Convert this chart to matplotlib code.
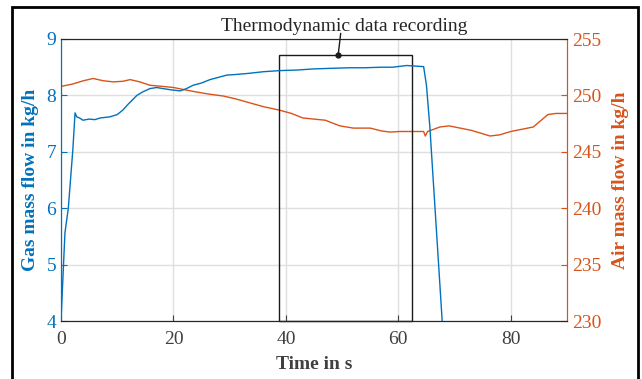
import matplotlib.pyplot as plt
from matplotlib.patches import Rectangle

# gas mass flow (left axis)
t_gas = [0, 0.7, 1.3, 2.1, 2.5, 2.8, 3.3, 3.9, 5, 6, 7, 8.7, 10, 11, 12, 13.5, 14.5,
         15.8, 17, 18.2, 19.5, 21.2, 22.3, 23.5, 25, 26.5, 28, 29.5, 31, 33.3, 36, 39,
         42, 45, 48, 51.4, 54, 57, 59, 61.5, 63, 64.5, 65.0, 65.6, 67.8]
gas = [4.0, 5.56, 6.0, 7.03, 7.69, 7.62, 7.6, 7.56, 7.58, 7.57, 7.6, 7.62, 7.66, 7.74,
       7.85, 8.0, 8.06, 8.12, 8.14, 8.12, 8.1, 8.08, 8.12, 8.18, 8.22, 8.28, 8.32, 8.36,
       8.37, 8.39, 8.42, 8.44, 8.45, 8.47, 8.48, 8.49, 8.49, 8.5, 8.5, 8.53, 8.52, 8.51,
       8.18, 7.45, 4.0]

# air mass flow (right axis)
t_air = [0, 2, 4, 5.7, 7.5, 9.3, 11, 12.3, 14, 15.8, 18, 20, 22, 24.1, 26.5, 28.8, 31,
         33.5, 36, 38.8, 41, 43, 45, 47, 49.6, 52, 55, 57, 58.5, 60.3, 62, 64.5, 64.8,
         65.2, 67.4, 69, 71, 73, 75, 76.3, 78, 80, 82, 84, 86.6, 88, 90]
air = [250.8, 251.0, 251.3, 251.5, 251.3, 251.2, 251.25, 251.4, 251.2, 250.9, 250.8,
       250.7, 250.5, 250.3, 250.1, 249.95, 249.7, 249.35, 249.0, 248.7, 248.4, 248.0,
       247.9, 247.8, 247.3, 247.1, 247.1, 246.85, 246.75, 246.8, 246.8, 246.8, 246.4,
       246.8, 247.2, 247.3, 247.1, 246.9, 246.6, 246.4, 246.5, 246.8, 247.0, 247.2,
       248.3, 248.4, 248.4]

# recording window
rec_start, rec_end, rec_top = 38.8, 62.5, 8.72
arrow_x, label_x, label_y = 49.3, 50.3, 9.07

blue = "#0072BD"
orange = "#D95319"
dark = "#262626"

plt.rcParams["font.family"] = ["Liberation Serif", "DejaVu Serif"]
plt.rcParams["font.size"] = 14

fig = plt.figure(figsize=(6.42, 3.79), dpi=100)
ax = fig.add_axes([61 / 642, 1 - 321 / 379, 506 / 642, 282 / 379])
ax2 = ax.twinx()
ax.set_zorder(ax2.get_zorder() + 1)
ax.patch.set_visible(False)

ax2.plot(t_air, air, color=orange, lw=1.0)
ax2.set_ylim(230, 255)
ax2.set_yticks([230, 235, 240, 245, 250, 255])
ax2.xaxis.set_visible(True)
ax2.set_xticks([0, 20, 40, 60, 80])
ax2.grid(True, color="#dfdfdf", lw=1.0)
ax2.set_axisbelow(True)

ax.plot(t_gas, gas, color=blue, lw=1.0)
ax.set_xlim(0, 90)
ax.set_ylim(4, 9)
ax.set_xticks([0, 20, 40, 60, 80])
ax.set_yticks([4, 5, 6, 7, 8, 9])

ax.add_patch(Rectangle((rec_start, 4), rec_end - rec_start, rec_top - 4,
                       fill=False, ec="#1a1a1a", lw=1.0, clip_on=False))
ax.plot([arrow_x], [rec_top], "o", color="#1a1a1a", ms=3.5, clip_on=False)
ax.annotate("", xy=(arrow_x, rec_top), xytext=(arrow_x + 0.45, label_y + 0.03),
            arrowprops=dict(arrowstyle="-", color="#1a1a1a", lw=1.0, shrinkA=0, shrinkB=0),
            annotation_clip=False)
ax.text(label_x, label_y, "Thermodynamic data recording", ha="center", va="bottom",
        fontsize=14, color=dark)

ax.set_xlabel("Time in s", fontweight="bold", color="#404040", labelpad=6)
ax.set_ylabel("Gas mass flow in kg/h", fontweight="bold", color=blue, labelpad=5)
ax2.set_ylabel("Air mass flow in kg/h", fontweight="bold", color=orange, labelpad=8)

ax.tick_params(axis="x", direction="in", colors="#404040", length=4, pad=7)
ax.tick_params(axis="y", direction="in", colors=blue, length=4)
ax2.tick_params(axis="y", direction="in", colors=orange, length=4)
ax2.tick_params(axis="x", length=0, labelbottom=False)

for a in (ax, ax2):
    a.spines["top"].set_color(dark)
    a.spines["bottom"].set_color(dark)
    a.spines["left"].set_color(blue)
    a.spines["right"].set_color(orange)

# outer frame
fig.patches.append(Rectangle((12 / 642, -0.1), 626 / 642, 1.1 - 7 / 379,
                             transform=fig.transFigure, fill=False, ec="black", lw=2.0))

fig.savefig("out.png", dpi=100)
